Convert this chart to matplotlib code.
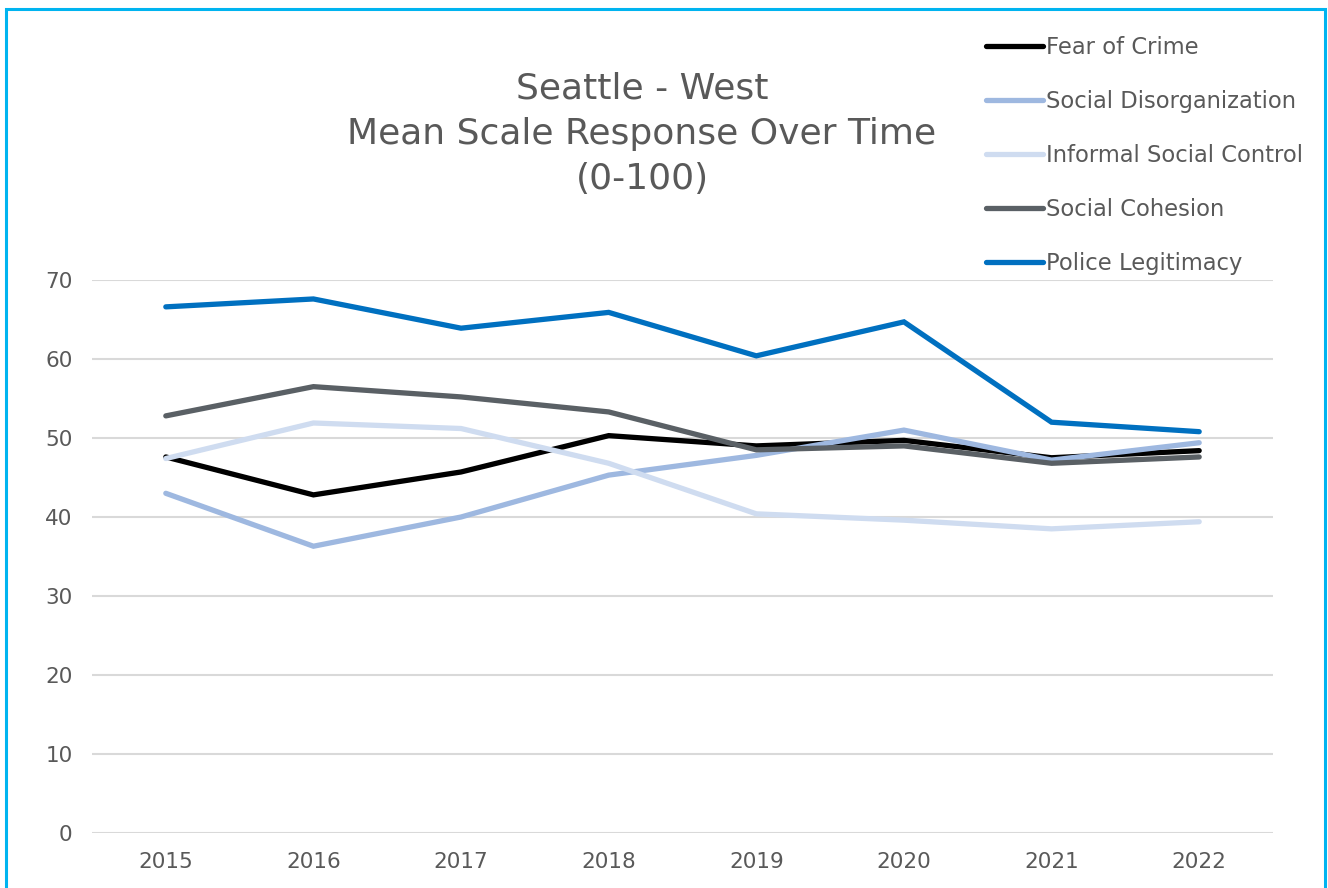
import matplotlib
matplotlib.use("Agg")
from matplotlib import pyplot as plt
from matplotlib.patches import Rectangle

years = ["2015", "2016", "2017", "2018", "2019", "2020", "2021", "2022"]

fear_of_crime = [47.6, 42.8, 45.7, 50.3, 49.0, 49.7, 47.5, 48.4]
social_disorganization = [43.0, 36.3, 40.0, 45.3, 47.8, 51.0, 47.2, 49.4]
informal_social_control = [47.4, 51.9, 51.2, 46.8, 40.4, 39.6, 38.5, 39.4]
social_cohesion = [52.8, 56.5, 55.2, 53.3, 48.5, 49.0, 46.8, 47.6]
police_legitimacy = [66.6, 67.6, 63.9, 65.9, 60.4, 64.7, 52.0, 50.8]

series = [
    ("Fear of Crime", fear_of_crime, "#000000"),
    ("Social Disorganization", social_disorganization, "#9EB8E0"),
    ("Informal Social Control", informal_social_control, "#CFDCF0"),
    ("Social Cohesion", social_cohesion, "#5A6065"),
    ("Police Legitimacy", police_legitimacy, "#0070C0"),
]

plt.rcParams['font.family'] = ['DejaVu Sans']
text_color = "#595959"

fig = plt.figure(figsize=(13.28, 8.88), dpi=100)
ax = fig.add_axes([92 / 1328, 1 - 833 / 888, (1273 - 92) / 1328, (833 - 280) / 888])

x = list(range(len(years)))
handles = []
for name, values, color in series:
    h, = ax.plot(x, values, color=color, linewidth=3.8, solid_capstyle='round',
                 solid_joinstyle='miter', label=name)
    handles.append(h)

ax.set_xlim(-0.5, len(years) - 0.5)
ax.set_ylim(0, 70)
ax.set_yticks(range(0, 71, 10))
ax.set_xticks(x)
ax.set_xticklabels(years)
ax.grid(axis='y', color='#D9D9D9', linewidth=1.5)
ax.set_axisbelow(True)
for spine in ax.spines.values():
    spine.set_visible(False)
ax.tick_params(length=0, labelsize=15.5, colors=text_color)
ax.tick_params(axis='x', pad=14)
ax.tick_params(axis='y', pad=14)

fig.text(642 / 1328, 1 - 134 / 888, "Seattle - West\nMean Scale Response Over Time\n(0-100)",
         ha='center', va='center', fontsize=26, color=text_color, linespacing=1.42)

fig.legend(handles=handles, loc='upper left', bbox_to_anchor=(977 / 1328, 1 - 27 / 888),
           frameon=False, fontsize=16.3, labelcolor=text_color, handlelength=2.5,
           handletextpad=0.15, labelspacing=1.37, borderaxespad=0)

# blue frame around the chart area
fig.patches.append(Rectangle((6 / 1328, -0.05), (1325 - 6) / 1328, 1.05 - 9 / 888,
                             transform=fig.transFigure, fill=False,
                             edgecolor='#00B4F0', linewidth=2.2))

fig.savefig("out.png", dpi=100)
